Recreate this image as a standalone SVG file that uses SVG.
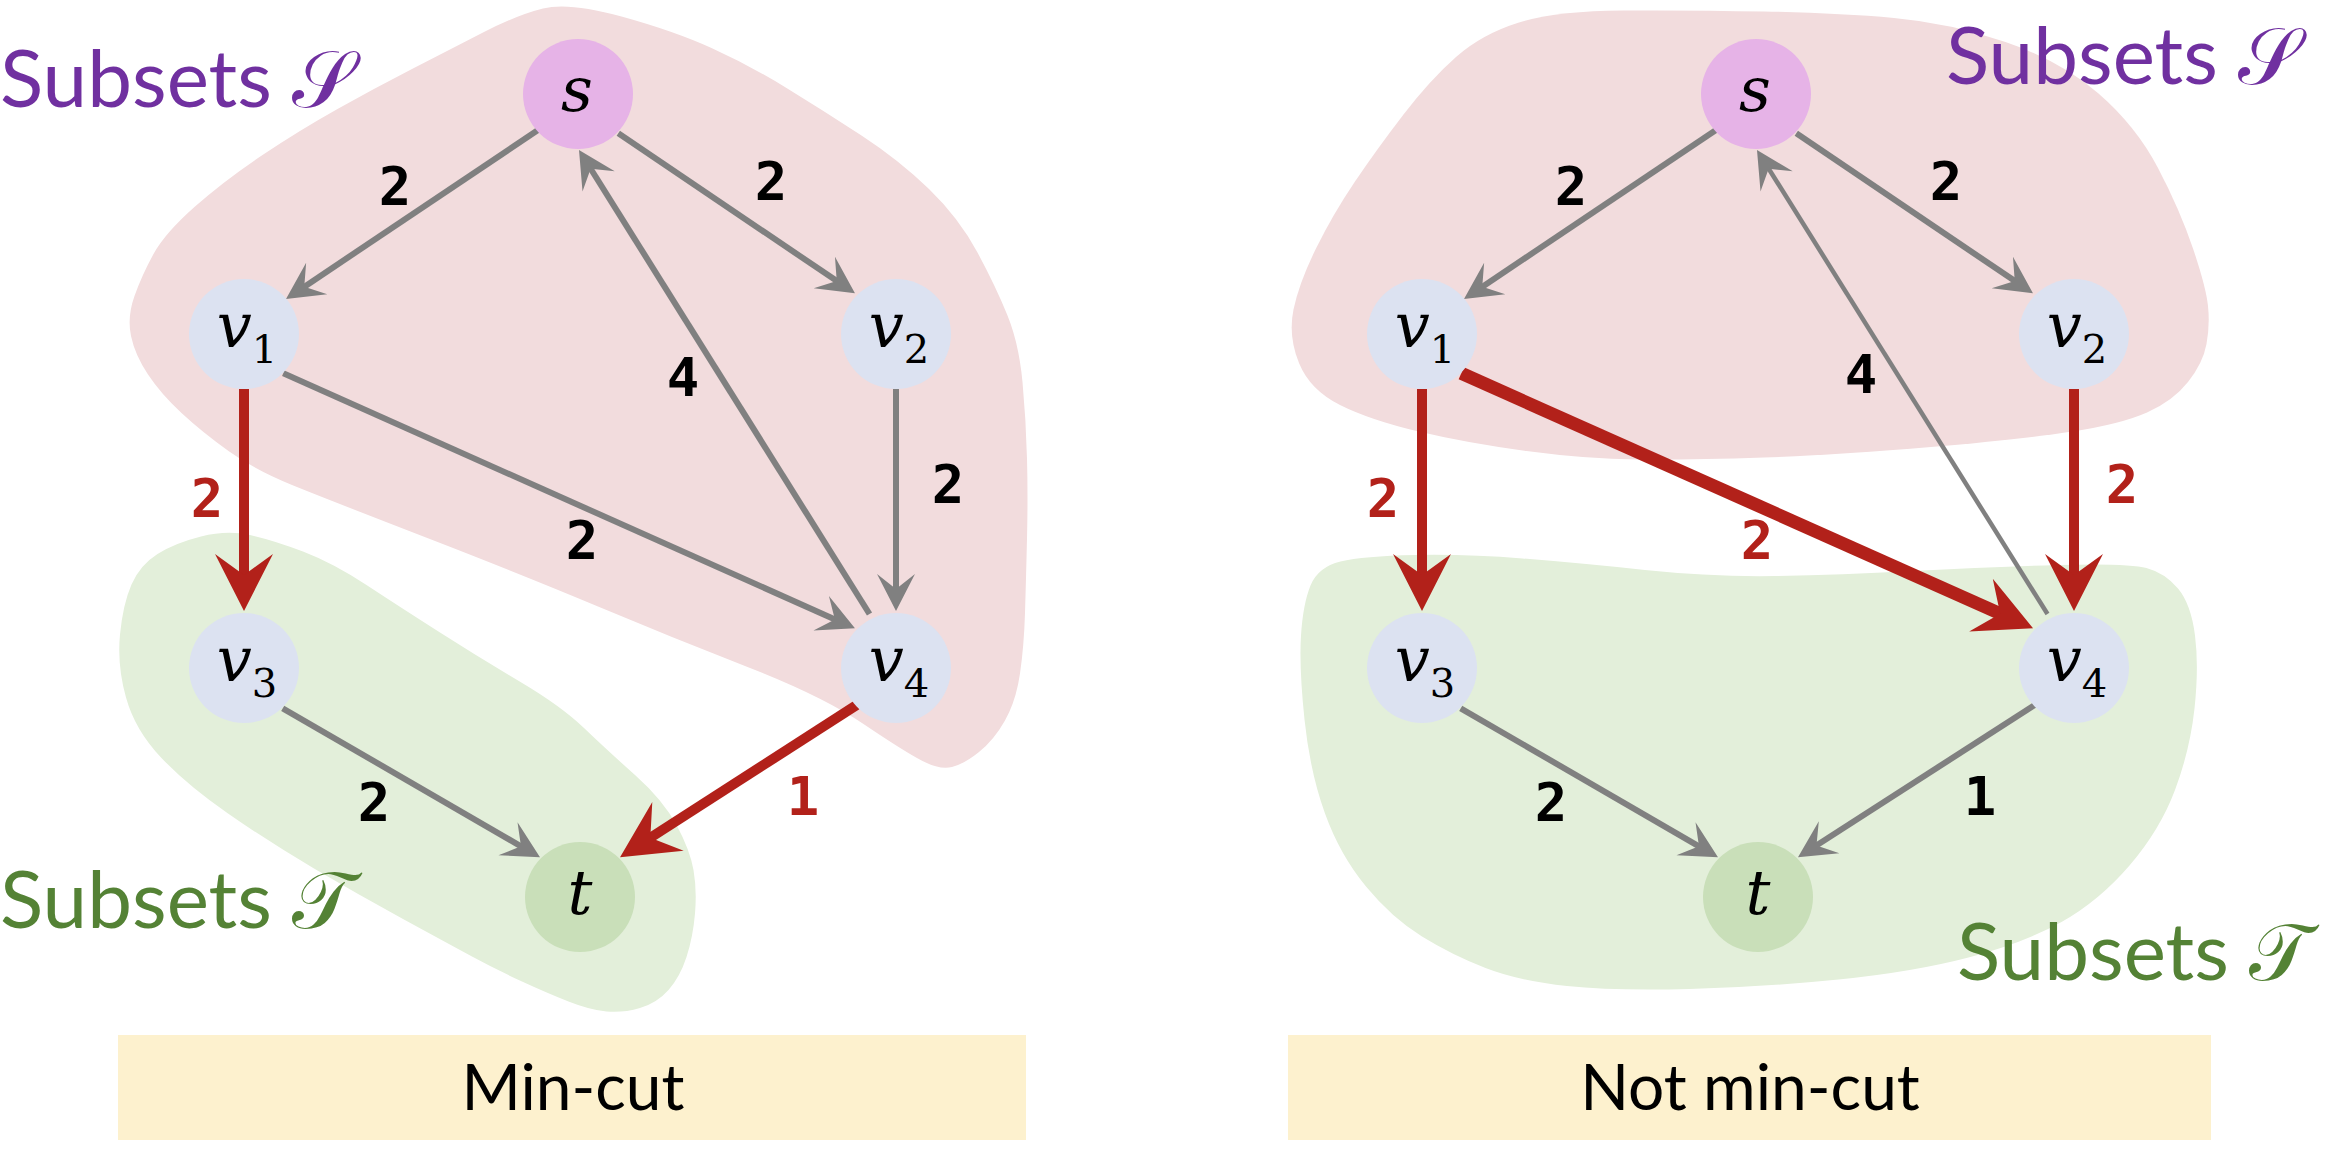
<svg xmlns="http://www.w3.org/2000/svg" width="2334" height="1152" viewBox="0 0 2334 1152">
<style>
.pink{fill:#F2DCDD}
.green{fill:#E3EFDA}
.g{stroke:#808080;stroke-width:6;fill:none;marker-end:url(#ag)}
.gt{stroke:#808080;stroke-width:4.5;fill:none;marker-end:url(#ag)}
.r{stroke:#B2211A;stroke-width:10;fill:none;marker-end:url(#ar)}
.rt{stroke:#B2211A;stroke-width:13;fill:none;marker-end:url(#ar)}
.vn{fill:#DCE2F1}
.sn{fill:#E6B3E7}
.tn{fill:#C9DFB9}
.nl{font-family:"DejaVu Serif",serif;font-size:62px;fill:#000;text-anchor:middle}
.sub{font-size:40px}
.el{font-family:"DejaVu Sans Mono",monospace;font-weight:bold;font-size:54px;text-anchor:middle;fill:#000}
.elr{fill:#B2211A}
.ss{font-family:Lato,"DejaVu Sans","Noto Sans",sans-serif;font-size:80px;fill:#7030A0}
.st{font-family:Lato,"DejaVu Sans","Noto Sans",sans-serif;font-size:80px;fill:#548235}
.box{fill:#FDF1CE}
.bt{font-family:Lato,"Liberation Sans",sans-serif;font-size:64px;fill:#000;text-anchor:middle}
</style>
<defs>
<marker id="ag" viewBox="-38 -20 40 40" refX="-20" refY="0" markerWidth="40" markerHeight="40" markerUnits="userSpaceOnUse" orient="auto">
<path d="M0,0 L-37,-19 L-22,0 L-37,19 Z" fill="#808080"/>
</marker>
<marker id="ar" viewBox="-60 -32 62 64" refX="-33" refY="0" markerWidth="62" markerHeight="64" markerUnits="userSpaceOnUse" orient="auto">
<path d="M0,0 L-57,-29 L-36,0 L-57,29 Z" fill="#B2211A"/>
</marker>
</defs>

<g id="regions">
<path id="left-S" class="pink" d="M543,8.5 Q569,2 621.5,16.5 Q674,31 711.5,48 Q749,65 786.5,88 Q824,111 861.5,135.5 Q899,160 929,189 Q959,218 977.5,252.5 Q996,287 1007.5,315.5 Q1019,344 1022.5,382 Q1026,420 1027,458.5 Q1028,497 1027,538.5 Q1026,580 1025,613 Q1024,646 1020,673.5 Q1016,701 1005,720.5 Q994,740 979,752 Q964,764 952,767 Q940,770 922.5,761 Q905,752 863.5,724 Q822,696 747.5,667 Q673,638 598,606.5 Q523,575 426,537.5 Q329,500 292,485 Q255,470 228.5,451 Q202,432 181.5,413 Q161,394 148,374.5 Q135,355 131,336 Q127,317 134.5,296 Q142,275 153.5,254 Q165,233 195,206.5 Q225,180 262.5,155 Q300,130 337.5,109 Q375,88 412,69 Q449,50 483,32.5 Q517,15 543,8.5 Z"/>
<path id="left-T" class="green" d="M201,536.5 Q227,530 250,535 Q273,540 303,551.5 Q333,563 366.5,585 Q400,607 440,632.5 Q480,658 520.5,682 Q561,706 584,728 Q607,750 635,775 Q663,800 676.5,825 Q690,850 693.5,870 Q697,890 695,913.5 Q693,937 686.5,957 Q680,977 668.5,990 Q657,1003 640,1008 Q623,1013 606.5,1011.5 Q590,1010 568.5,1001.5 Q547,993 522,981.5 Q497,970 472,956.5 Q447,943 403,919 Q359,895 314,868.5 Q269,842 228,813.5 Q187,785 161,757.5 Q135,730 126,697.5 Q117,665 120,634.5 Q123,604 131.5,584.5 Q140,565 157.5,554 Q175,543 201,536.5 Z"/>
<path id="right-S" class="pink" d="M1456,57 Q1482,34 1519,22.5 Q1556,11 1623,10.5 Q1690,10 1764,11.5 Q1838,13 1894,18 Q1950,23 2005.5,42 Q2061,61 2098.5,93.5 Q2136,126 2158,168 Q2180,210 2193,248.5 Q2206,287 2208,306 Q2210,325 2206.5,344 Q2203,363 2188,382 Q2173,401 2147,412.5 Q2121,424 2072.5,431.5 Q2024,439 1931,447 Q1838,455 1764,457.5 Q1690,460 1638,459.5 Q1586,459 1526.5,451 Q1467,443 1418.5,431.5 Q1370,420 1340,405 Q1310,390 1299,363 Q1288,336 1293.5,309.5 Q1299,283 1316,248.5 Q1333,214 1355,181.5 Q1377,149 1403.5,114.5 Q1430,80 1456,57 Z"/>
<path id="right-T" class="green" d="M1310.5,585.5 Q1318,567 1340.5,561.5 Q1363,556 1415,555 Q1467,554 1522.5,558.5 Q1578,563 1645,570 Q1712,577 1775,576 Q1838,575 1912.5,571 Q1987,567 2057.5,565 Q2128,563 2146.5,568 Q2165,573 2178,588.5 Q2191,604 2195,635.5 Q2199,667 2194.5,708.5 Q2190,750 2175,790 Q2160,830 2129.5,865.5 Q2099,901 2061.5,922 Q2024,943 1968.5,957.5 Q1913,972 1838.5,979.5 Q1764,987 1689.5,989 Q1615,991 1567,986 Q1519,981 1485.5,968 Q1452,955 1422,936.5 Q1392,918 1366,886.5 Q1340,855 1325,813.5 Q1310,772 1304.5,719.5 Q1299,667 1301,635.5 Q1303,604 1310.5,585.5 Z"/>
</g>

<g id="connectors">
<line class="g" x1="538" y1="130" x2="302.6" y2="287.9"/>
<line class="g" x1="618.3" y1="133.3" x2="838.4" y2="282.1"/>
<line class="g" x1="869.5" y1="614" x2="589.6" y2="167"/>
<line class="g" x1="283.3" y1="373.3" x2="836.7" y2="620.2"/>
<line class="g" x1="896" y1="389" x2="896" y2="591"/>
<line class="r" x1="244" y1="389" x2="244" y2="578"/>
<line class="g" x1="282.7" y1="708.3" x2="522.7" y2="847.3"/>
<line class="r" x1="856.7" y1="705" x2="647.8" y2="839.4"/>
<line class="g" x1="1716" y1="130" x2="1480.6" y2="287.9"/>
<line class="g" x1="1796.3" y1="133.3" x2="2016.4" y2="282.1"/>
<line class="gt" x1="2047.5" y1="614" x2="1767.6" y2="167"/>
<line class="rt" x1="1461.3" y1="373.3" x2="2002.9" y2="614.9"/>
<line class="r" x1="2074" y1="389" x2="2074" y2="578"/>
<line class="r" x1="1422" y1="389" x2="1422" y2="578"/>
<line class="g" x1="1460.7" y1="708.3" x2="1700.7" y2="847.3"/>
<line class="g" x1="2034.7" y1="705" x2="1814.8" y2="846.5"/>
<text class="el" x="395" y="205">2</text>
<text class="el" x="771" y="200">2</text>
<text class="el" x="683" y="396">4</text>
<text class="el" x="582" y="559">2</text>
<text class="el" x="948" y="503">2</text>
<text class="el elr" x="207" y="517">2</text>
<text class="el" x="374" y="821">2</text>
<text class="el elr" x="803" y="815">1</text>
<text class="el" x="1571" y="205">2</text>
<text class="el" x="1946" y="200">2</text>
<text class="el" x="1861" y="393">4</text>
<text class="el elr" x="1757" y="559">2</text>
<text class="el elr" x="2122" y="503">2</text>
<text class="el elr" x="1383" y="517">2</text>
<text class="el" x="1551" y="821">2</text>
<text class="el" x="1980" y="815">1</text>
</g>

<g id="node-s-left"><circle class="sn" cx="578" cy="94" r="55"/><text class="nl" x="577" y="111">𝑠</text></g>
<g id="node-v1-left"><circle class="vn" cx="244" cy="334" r="55"/><text class="nl" x="247" y="347">𝑣<tspan class="sub" dy="16">1</tspan></text></g>
<g id="node-v2-left"><circle class="vn" cx="896" cy="334" r="55"/><text class="nl" x="899" y="347">𝑣<tspan class="sub" dy="16">2</tspan></text></g>
<g id="node-v3-left"><circle class="vn" cx="244" cy="668" r="55"/><text class="nl" x="247" y="681">𝑣<tspan class="sub" dy="16">3</tspan></text></g>
<g id="node-v4-left"><circle class="vn" cx="896" cy="668" r="55"/><text class="nl" x="899" y="681">𝑣<tspan class="sub" dy="16">4</tspan></text></g>
<g id="node-t-left"><circle class="tn" cx="580" cy="897" r="55"/><text class="nl" x="580" y="914">𝑡</text></g>

<g id="node-s-right"><circle class="sn" cx="1756" cy="94" r="55"/><text class="nl" x="1755" y="111">𝑠</text></g>
<g id="node-v1-right"><circle class="vn" cx="1422" cy="334" r="55"/><text class="nl" x="1425" y="347">𝑣<tspan class="sub" dy="16">1</tspan></text></g>
<g id="node-v2-right"><circle class="vn" cx="2074" cy="334" r="55"/><text class="nl" x="2077" y="347">𝑣<tspan class="sub" dy="16">2</tspan></text></g>
<g id="node-v3-right"><circle class="vn" cx="1422" cy="668" r="55"/><text class="nl" x="1425" y="681">𝑣<tspan class="sub" dy="16">3</tspan></text></g>
<g id="node-v4-right"><circle class="vn" cx="2074" cy="668" r="55"/><text class="nl" x="2077" y="681">𝑣<tspan class="sub" dy="16">4</tspan></text></g>
<g id="node-t-right"><circle class="tn" cx="1758" cy="897" r="55"/><text class="nl" x="1758" y="914">𝑡</text></g>

<g id="captions">
<text class="ss" x="0" y="107">Subsets 𝒮</text>
<text class="st" x="0" y="928">Subsets 𝒯</text>
<text class="ss" x="1946" y="84">Subsets 𝒮</text>
<text class="st" x="1957" y="980">Subsets 𝒯</text>
</g>

<g id="box-left"><rect class="box" x="118" y="1035" width="908" height="105"/><text class="bt" x="573" y="1110">Min-cut</text></g>
<g id="box-right"><rect class="box" x="1288" y="1035" width="923" height="105"/><text class="bt" x="1750" y="1110">Not min-cut</text></g>
</svg>
